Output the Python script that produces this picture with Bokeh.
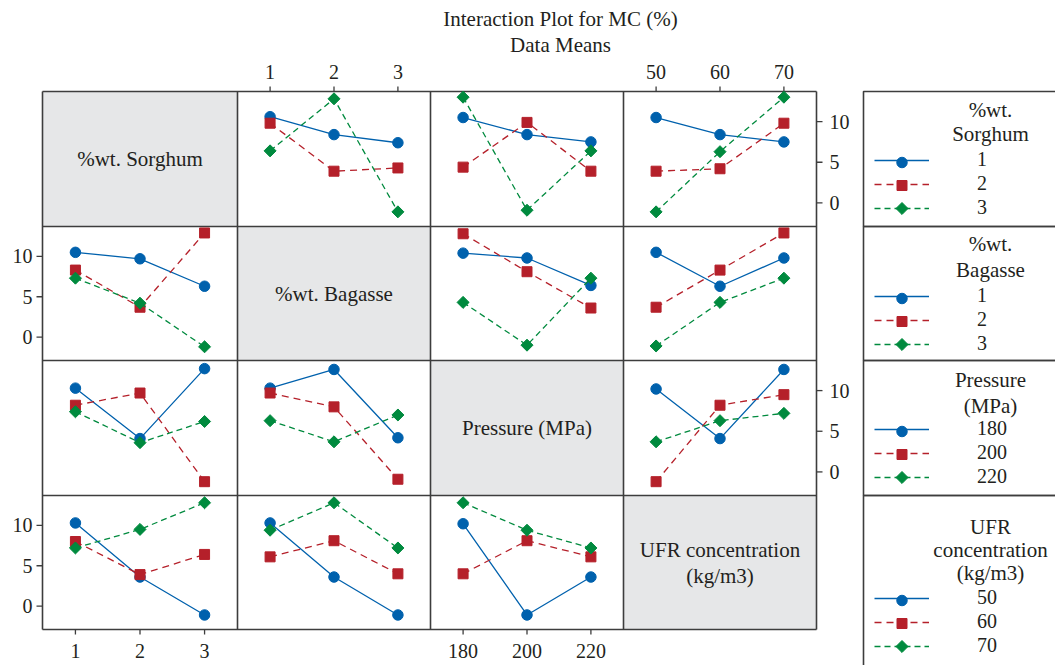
import math
from bokeh.plotting import figure
from bokeh.models import Range1d, Legend, LegendItem
from bokeh.core.properties import value
from bokeh.embed import file_html
from bokeh.resources import INLINE

# ---------------- data ----------------
FACTORS = ["%wt. Sorghum", "%wt. Bagasse", "Pressure (MPa)", "UFR concentration (kg/m3)"]
SORGHUM = [1, 2, 3]
BAGASSE = [1, 2, 3]
PRESSURE = [180, 200, 220]
UFR = [50, 60, 70]
LEVELS = [SORGHUM, BAGASSE, PRESSURE, UFR]
Y_TICKS = [0, 5, 10]

# means of MC (%) -- outer list = line factor level, inner list = x factor level
sorghum_by_bagasse = [[10.6, 8.4, 7.4], [9.8, 3.9, 4.3], [6.4, 12.8, -1.1]]
sorghum_by_pressure = [[10.5, 8.4, 7.5], [4.4, 9.9, 3.9], [13.0, -0.9, 6.4]]
sorghum_by_ufr = [[10.5, 8.4, 7.5], [3.9, 4.2, 9.8], [-1.1, 6.3, 13.0]]
bagasse_by_sorghum = [[10.5, 9.7, 6.3], [8.3, 3.7, 12.9], [7.3, 4.2, -1.2]]
bagasse_by_pressure = [[10.4, 9.8, 6.4], [12.8, 8.1, 3.6], [4.3, -1.0, 7.3]]
bagasse_by_ufr = [[10.5, 6.3, 9.8], [3.7, 8.3, 12.9], [-1.1, 4.3, 7.3]]
pressure_by_sorghum = [[10.3, 4.1, 12.7], [8.2, 9.7, -1.2], [7.4, 3.6, 6.2]]
pressure_by_bagasse = [[10.3, 12.6, 4.2], [9.7, 8.0, -0.9], [6.3, 3.7, 7.0]]
pressure_by_ufr = [[10.2, 4.1, 12.6], [-1.2, 8.2, 9.5], [3.7, 6.3, 7.2]]
ufr_by_sorghum = [[10.3, 3.6, -1.1], [8.0, 3.9, 6.4], [7.2, 9.5, 12.8]]
ufr_by_bagasse = [[10.3, 3.6, -1.1], [6.1, 8.1, 4.0], [9.4, 12.8, 7.2]]
ufr_by_pressure = [[10.2, -1.1, 3.6], [4.0, 8.1, 6.1], [12.8, 9.4, 7.2]]

PANELS = {
    (0, 1): sorghum_by_bagasse, (0, 2): sorghum_by_pressure, (0, 3): sorghum_by_ufr,
    (1, 0): bagasse_by_sorghum, (1, 2): bagasse_by_pressure, (1, 3): bagasse_by_ufr,
    (2, 0): pressure_by_sorghum, (2, 1): pressure_by_bagasse, (2, 3): pressure_by_ufr,
    (3, 0): ufr_by_sorghum, (3, 1): ufr_by_bagasse, (3, 2): ufr_by_pressure,
}

# ---------------- layout / style ----------------
W, H = 1055, 665
X_EDGES = [42, 237, 430, 623, 816]
Y_EDGES = [91, 226, 360, 495, 629]
Y_LO, Y_HI = -2.9, 13.7
FONT = "'Liberation Serif', 'Times New Roman', serif"
FS = "21px"      # titles / labels
FS_NUM = "20px"  # numbers
TXT = "#231f20"
GRID = "#3d3d3d"
DIAG = "#e6e7e8"
BLUE, RED, GREEN = "#0061ad", "#b5202a", "#008a3e"
STYLES = [
    dict(color=BLUE, dash="solid", m="circle", ms=10.5, angle=0.0),
    dict(color=RED, dash="7 5", m="square", ms=10, angle=0.0),
    dict(color=GREEN, dash="6 4", m="square", ms=8.5, angle=45.0),
]

p = figure(width=W, height=H, x_range=Range1d(0, W), y_range=Range1d(H, 0),
           output_backend="svg", toolbar_location=None, min_border=0,
           x_axis_location=None, y_axis_location=None, title=None)
p.grid.visible = False
p.outline_line_color = None
p.background_fill_color = "white"
p.border_fill_color = "white"


def txt(x, y, t, align="center", baseline="middle", size=FS):
    p.text(x=x, y=y, text=t, text_font=value(FONT), text_font_size=size,
           text_color=TXT, text_align=align, text_baseline=baseline)


# title
txt([560, 560], [18, 44], ["Interaction Plot for MC (%)", "Data Means"])

# diagonal cells
p.quad(left=X_EDGES[:-1], right=X_EDGES[1:], top=Y_EDGES[:-1], bottom=Y_EDGES[1:],
       fill_color=DIAG, line_color=None)
diag_lines = [["%wt. Sorghum"], ["%wt. Bagasse"], ["Pressure (MPa)"], ["UFR concentration", "(kg/m3)"]]
for i, lines in enumerate(diag_lines):
    cx = (X_EDGES[i] + X_EDGES[i + 1]) / 2
    cy = (Y_EDGES[i] + Y_EDGES[i + 1]) / 2
    n = len(lines)
    ys = [cy + (k - (n - 1) / 2) * 26 for k in range(n)]
    txt([cx] * n, ys, lines)

# matrix grid lines
p.segment(x0=X_EDGES, y0=[Y_EDGES[0]] * 5, x1=X_EDGES, y1=[Y_EDGES[-1]] * 5,
          line_color=GRID, line_width=1.6)
p.segment(x0=[X_EDGES[0]] * 5, y0=Y_EDGES, x1=[X_EDGES[-1]] * 5, y1=Y_EDGES,
          line_color=GRID, line_width=1.6)


def xrange_for(c):
    lv = LEVELS[c]
    step = lv[1] - lv[0]
    return Range1d(lv[0] - 0.51 * step, lv[-1] + 0.51 * step)


# axes: top (cols 1,3), bottom (cols 0,2)
for c in range(4):
    sub = p.subplot(x_source=xrange_for(c), y_source=Range1d(0, H),
                    x_target=Range1d(X_EDGES[c], X_EDGES[c + 1]), y_target=Range1d(0, H))
    lv = LEVELS[c]
    if c in (1, 3):
        y0, y1, ly = 86, Y_EDGES[0], 71
    else:
        y0, y1, ly = Y_EDGES[-1], Y_EDGES[-1] + 5, 650
    sub.segment(x0=lv, x1=lv, y0=[y0] * 3, y1=[y1] * 3, line_color=GRID, line_width=1.3)
    sub.text(x=lv, y=[ly] * 3, text=[str(v) for v in lv], text_font=value(FONT),
             text_font_size=FS_NUM, text_color=TXT, text_align="center", text_baseline="middle")

# axes: right (rows 0,2), left (rows 1,3)
for r in range(4):
    sub = p.subplot(x_source=Range1d(0, W), y_source=Range1d(Y_LO, Y_HI),
                    x_target=Range1d(0, W), y_target=Range1d(Y_EDGES[r + 1], Y_EDGES[r]))
    if r in (0, 2):
        x0, x1, lx, al = X_EDGES[-1], X_EDGES[-1] + 6, 829, "left"
    else:
        x0, x1, lx, al = X_EDGES[0] - 6, X_EDGES[0], 32, "right"
    sub.segment(x0=[x0] * 3, x1=[x1] * 3, y0=Y_TICKS, y1=Y_TICKS, line_color=GRID, line_width=1.3)
    sub.text(x=[lx] * 3, y=Y_TICKS, text=[str(v) for v in Y_TICKS], text_font=value(FONT),
             text_font_size=FS_NUM, text_color=TXT, text_align=al, text_baseline="middle")

# panels
legend_lines = {}
for (r, c), means in PANELS.items():
    sub = p.subplot(x_source=xrange_for(c), y_source=Range1d(Y_LO, Y_HI),
                    x_target=Range1d(X_EDGES[c], X_EDGES[c + 1]),
                    y_target=Range1d(Y_EDGES[r + 1], Y_EDGES[r]))
    rends = []
    for k in range(3):
        st = STYLES[k]
        ln = sub.line(x=LEVELS[c], y=means[k], line_color=st["color"], line_width=1.3,
                      line_dash=st["dash"])
        sub.scatter(x=LEVELS[c], y=means[k], marker=st["m"], size=st["ms"],
                    angle=st["angle"], angle_units="deg",
                    fill_color=st["color"], line_color=st["color"])
        rends.append(ln)
    if r not in legend_lines:
        legend_lines[r] = rends

# legend boxes
LEG_X0 = 863
LEG_TOPS = [91, 226, 360, 495]
LEG_BOTS = [226, 360, 495, 680]
p.quad(left=[LEG_X0] * 4, right=[W + 10] * 4, top=LEG_TOPS, bottom=LEG_BOTS,
       fill_color=None, line_color=GRID, line_width=1.6)
LEG_TITLES = [["%wt.", "Sorghum"], ["%wt.", "Bagasse"], ["Pressure", "(MPa)"],
              ["UFR", "concentration", "(kg/m3)"]]
LEG_TITLE_Y = [[109, 133], [243, 269], [379, 405], [526, 549, 572]]
for lines, ys in zip(LEG_TITLES, LEG_TITLE_Y):
    txt([990] * len(lines), ys, lines)

ITEM_TOPS = [151, 287, 420, 589]
ROW_H, GAP = 22, 1
KEY_X0, KEY_W = 874, 55
for r in range(4):
    items = [LegendItem(label=str(LEVELS[r][k]), renderers=[legend_lines[r][k]]) for k in range(3)]
    leg_h = 3 * ROW_H + 2 * GAP
    leg = Legend(items=items, location=(KEY_X0, H - ITEM_TOPS[r] - leg_h), orientation="vertical",
                 glyph_width=KEY_W, glyph_height=ROW_H, label_height=ROW_H, spacing=GAP,
                 padding=0, margin=0, label_standoff=48, border_line_color=None,
                 background_fill_alpha=0, label_text_font=FONT, label_text_font_size=FS_NUM,
                 label_text_color=TXT)
    p.add_layout(leg)
    # legend key markers (drawn on top of the legend key lines)
    for k in range(3):
        st = STYLES[k]
        p.scatter(x=[KEY_X0 + KEY_W / 2], y=[ITEM_TOPS[r] + ROW_H / 2 + k * (ROW_H + GAP)],
                  marker=st["m"], size=st["ms"], angle=st["angle"], angle_units="deg",
                  fill_color=st["color"], line_color=st["color"], level="overlay")

open("out.html", "w").write(file_html(p, INLINE, "Interaction Plot for MC (%)"))
